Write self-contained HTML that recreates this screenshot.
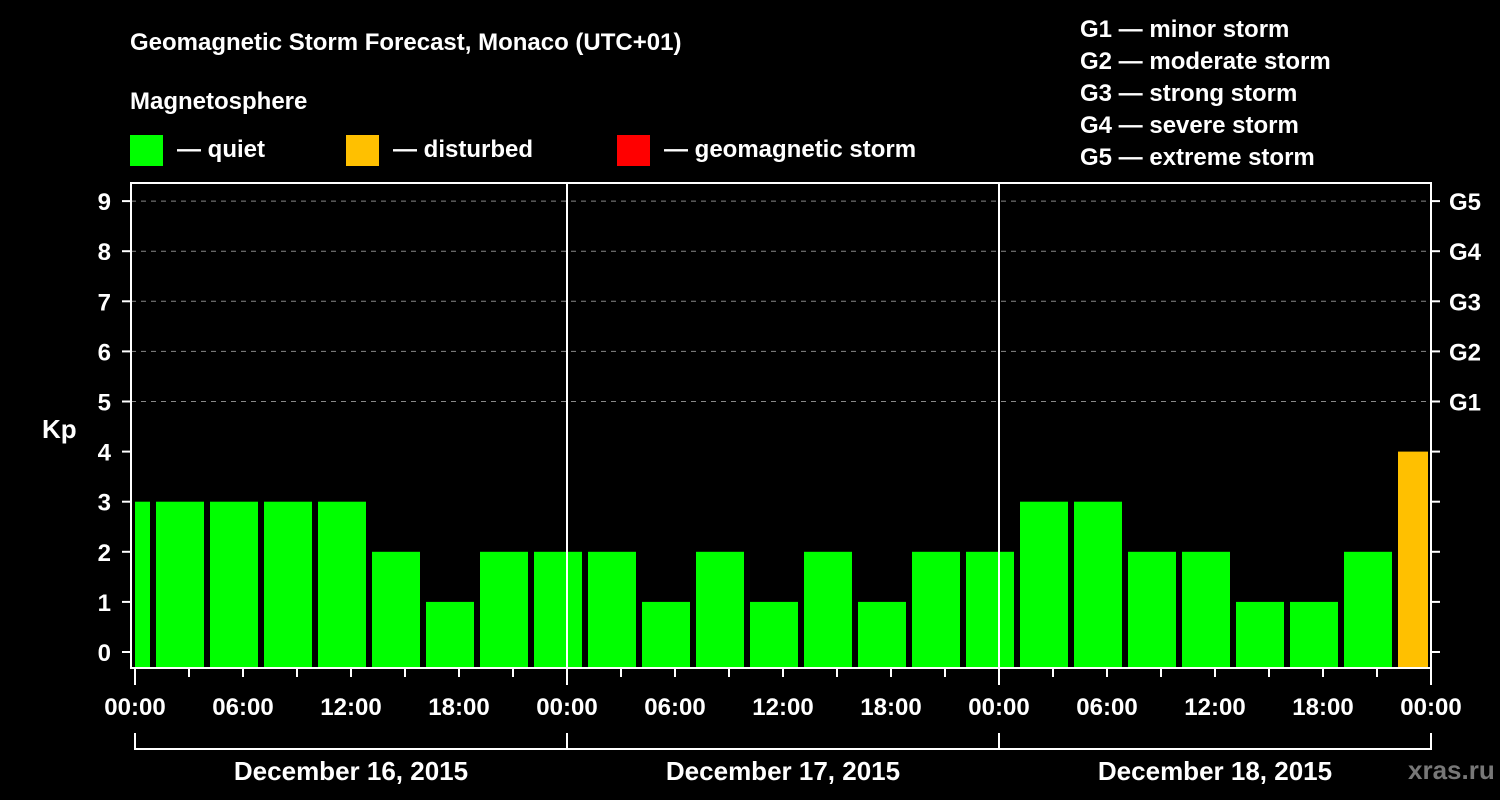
<!DOCTYPE html>
<html><head><meta charset="utf-8"><style>
body{margin:0;background:#000;width:1500px;height:800px;overflow:hidden}
svg{display:block;font-family:"Liberation Sans",sans-serif;font-weight:bold}
</style></head><body>
<svg id="c" width="1500" height="800">
<text x="130" y="50" fill="#fff" font-size="24">Geomagnetic Storm Forecast, Monaco (UTC+01)</text>
<text x="130" y="109" fill="#fff" font-size="24">Magnetosphere</text>
<g><rect x="130" y="135" width="33" height="31" fill="#00ff00"/><text x="177" y="157" fill="#fff" font-size="24">— quiet</text></g>
<g><rect x="346" y="135" width="33" height="31" fill="#ffc000"/><text x="393" y="157" fill="#fff" font-size="24">— disturbed</text></g>
<g><rect x="617" y="135" width="33" height="31" fill="#ff0000"/><text x="664" y="157" fill="#fff" font-size="24">— geomagnetic storm</text></g>
<g fill="#fff" font-size="24">
<text x="1080" y="37">G1 — minor storm</text><text x="1080" y="69">G2 — moderate storm</text><text x="1080" y="101">G3 — strong storm</text><text x="1080" y="133">G4 — severe storm</text><text x="1080" y="165">G5 — extreme storm</text></g>
<text x="42" y="438" fill="#fff" font-size="26">Kp</text>
<text x="1408" y="779" fill="#777" font-size="26">xras.ru</text>
<g id="plot"></g>
</svg>
<script>
const startHours=[-2,1,4,7,10,13,16,19,22,25,28,31,34,37,40,43,46,49,52,55,58,61,64,67,70];
const kpValues=[3,3,3,3,3,2,1,2,2,2,1,2,1,2,1,2,2,3,3,2,2,1,1,2,4];
const dayLabels=["December 16, 2015","December 17, 2015","December 18, 2015"];
const yTicks=[0,1,2,3,4,5,6,7,8,9];
const gLabels=["G1","G2","G3","G4","G5"];
const X0=135,PX_H=18,L=131,R=1431,T=183,B=668;
const xs=h=>X0+h*PX_H, ys=k=>652-k*50.1;
const ns="http://www.w3.org/2000/svg",g=document.getElementById('plot');
function mk(t,a){const e=document.createElementNS(ns,t);for(const k in a)e.setAttribute(k,a[k]);g.appendChild(e);return e;}
yTicks.forEach(k=>{if(k>=5){const l=mk('line',{x1:L,x2:R,y1:ys(k),y2:ys(k),stroke:'#888','stroke-dasharray':'5,5','stroke-width':1});

}
const t=mk('line',{x1:L-9,x2:L,y1:ys(k),y2:ys(k),stroke:'#fff','stroke-width':2});


const r=mk('line',{x1:R,x2:R+9,y1:ys(k),y2:ys(k),stroke:'#fff','stroke-width':2});


const tx=mk('text',{x:L-20,y:ys(k)+9,fill:'#fff','font-size':24,'text-anchor':'end'});tx.textContent=k;

});
gLabels.forEach((s,i)=>{const tx=mk('text',{x:1449,y:ys(5+i)+9,fill:'#fff','font-size':24});tx.textContent=s;

});
startHours.forEach((h,i)=>{let x1=Math.max(xs(h)+3,X0),x2=Math.min(xs(h+3)-3,R-3);const v=kpValues[i];
const b=mk('rect',{x:x1,y:ys(v),width:x2-x1,height:B-ys(v),fill:v>=5?'#ff0000':v>=4?'#ffc000':'#00ff00'});

});
[1,2].forEach(d=>{const l=mk('line',{x1:xs(24*d),x2:xs(24*d),y1:T,y2:B,stroke:'#fff','stroke-width':2});

});
const f=mk('rect',{x:L,y:T,width:R-L,height:B-T,fill:'none',stroke:'#fff','stroke-width':2});


for(let h=0;h<=72;h+=3){const x=h===72?R:xs(h);const t=mk('line',{x1:x,x2:x,y1:B,y2:B+(h%24===0?17:9),stroke:'#fff','stroke-width':2});


if(h%6===0){const tx=mk('text',{x:x,y:715,fill:'#fff','font-size':24,'text-anchor':'middle'});tx.textContent=String(h%24).padStart(2,'0')+':00';

}}
const br=mk('line',{x1:X0,x2:R,y1:749,y2:749,stroke:'#fff','stroke-width':2});


[0,1,2,3].forEach(d=>{const x=d===3?R:xs(24*d);const l=mk('line',{x1:x,x2:x,y1:733,y2:750,stroke:'#fff','stroke-width':2});

});
dayLabels.forEach((s,d)=>{const tx=mk('text',{x:xs(24*d+12),y:780,fill:'#fff','font-size':26,'text-anchor':'middle'});tx.textContent=s;

});
</script>
</body></html>
